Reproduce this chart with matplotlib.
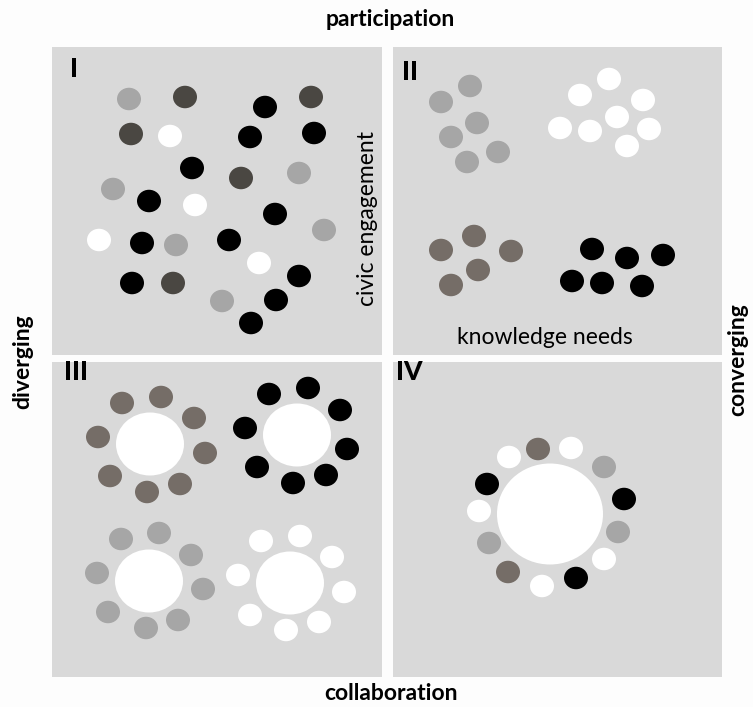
import matplotlib
matplotlib.use('Agg')
import matplotlib.pyplot as plt
from matplotlib.patches import Rectangle, Ellipse

# colours used for the dots
LIGHT = '#a6a6a6'
DARK = '#4a4742'
BROWN = '#756d67'
BLACK = '#000000'
WHITE = '#ffffff'
PANEL = '#d9d9d9'

# quadrant boxes (left, top, right, bottom) in pixel units
panels = [(52, 47, 382, 355), (393, 47, 722, 355),
          (52, 362, 382, 677), (393, 362, 722, 677)]
numerals = ['I', 'II', 'III', 'IV']
numeral_pos = [(70, 57), (402, 60), (64, 360), (396, 360)]

# quadrant I: scattered dots
q1_x = [129, 185, 265, 311, 131, 170, 250, 314, 192, 241, 299, 113, 149, 195,
        275, 324, 99, 142, 176, 229, 259, 299, 132, 173, 222, 276, 251]
q1_y = [99, 97, 107, 97, 134, 136, 137, 133, 168, 178, 173, 189, 201, 205,
        214, 230, 240, 243, 245, 240, 263, 276, 283, 283, 301, 300, 323]
q1_c = [LIGHT, DARK, BLACK, DARK, DARK, WHITE, BLACK, BLACK, BLACK, DARK, LIGHT, LIGHT, BLACK, WHITE,
        BLACK, LIGHT, WHITE, BLACK, LIGHT, BLACK, WHITE, BLACK, BLACK, DARK, LIGHT, BLACK, BLACK]

# quadrant II: four groups
q2_x = [470, 441, 477, 451, 498, 467,
        609, 580, 643, 617, 560, 590, 649, 627,
        474, 441, 511, 478, 451,
        592, 663, 627, 572, 602, 642]
q2_y = [86, 102, 123, 137, 152, 162,
        79, 95, 100, 117, 128, 131, 129, 146,
        236, 250, 251, 270, 285,
        249, 255, 258, 281, 283, 286]
q2_c = [LIGHT] * 6 + [WHITE] * 8 + [BROWN] * 5 + [BLACK] * 6

# quadrant III: four rings around a white centre
q3_centre_x = [150, 297, 149, 290]
q3_centre_y = [444, 435, 581, 583]
q3_x = [122, 161, 194, 98, 205, 110, 180, 147,
        269, 308, 340, 245, 347, 257, 326, 293,
        121, 159, 191, 97, 203, 108, 178, 146,
        261, 300, 332, 238, 344, 250, 319, 286]
q3_y = [403, 397, 418, 437, 453, 476, 484, 492,
        394, 388, 410, 428, 449, 467, 475, 483,
        539, 533, 555, 573, 589, 612, 620, 628,
        541, 536, 557, 575, 592, 615, 622, 630]
q3_c = [BROWN] * 8 + [BLACK] * 8 + [LIGHT] * 8 + [WHITE] * 8

# quadrant IV: one mixed ring around a large white centre
q4_centre_x = [550]
q4_centre_y = [514]
q4_x = [509, 538, 571, 604, 487, 624, 479, 618, 489, 604, 508, 576, 542]
q4_y = [457, 449, 448, 467, 484, 499, 511, 532, 543, 559, 572, 578, 586]
q4_c = [WHITE, BROWN, WHITE, LIGHT, BLACK, BLACK, WHITE, LIGHT, LIGHT, WHITE, BROWN, BLACK, WHITE]

plt.rcParams['font.family'] = ['Lato', 'DejaVu Sans']

fig = plt.figure(figsize=(7.53, 7.07), dpi=100, facecolor='#fdfdfd')
ax = fig.add_axes([0, 0, 1, 1])
ax.set_xlim(0, 753)
ax.set_ylim(707, 0)
ax.axis('off')

for (l, t, r, b) in panels:
    ax.add_patch(Rectangle((l, t), r - l, b - t, facecolor=PANEL, edgecolor='none'))

for name, (x, y) in zip(numerals, numeral_pos):
    ax.text(x, y, name, fontsize=19, fontweight='black', ha='left', va='top')


def dots(xs, ys, cs, w=24, h=22.5):
    for x, y, c in zip(xs, ys, cs):
        ax.add_patch(Ellipse((x, y), w, h, facecolor=c, edgecolor='none'))


dots(q1_x, q1_y, q1_c)
dots(q2_x, q2_y, q2_c)
dots(q3_centre_x, q3_centre_y, [WHITE] * 4, 68, 63)
dots(q3_x, q3_y, q3_c)
dots(q4_centre_x, q4_centre_y, [WHITE], 106, 101)
dots(q4_x, q4_y, q4_c)

ax.text(390, 20, 'participation', fontsize=16.5, fontweight='bold', ha='center', va='center')
ax.text(391, 693, 'collaboration', fontsize=16.5, fontweight='bold', ha='center', va='center')
ax.text(23, 362, 'diverging', fontsize=16.5, fontweight='bold', ha='center', va='center', rotation=90)
ax.text(738, 360, 'converging', fontsize=16.5, fontweight='bold', ha='center', va='center', rotation=90)
ax.text(368, 218, 'civic engagement', fontsize=16.5, ha='center', va='center', rotation=90)
ax.text(545, 338, 'knowledge needs', fontsize=16.5, ha='center', va='center')

fig.savefig('out.png', dpi=100, facecolor=fig.get_facecolor())
